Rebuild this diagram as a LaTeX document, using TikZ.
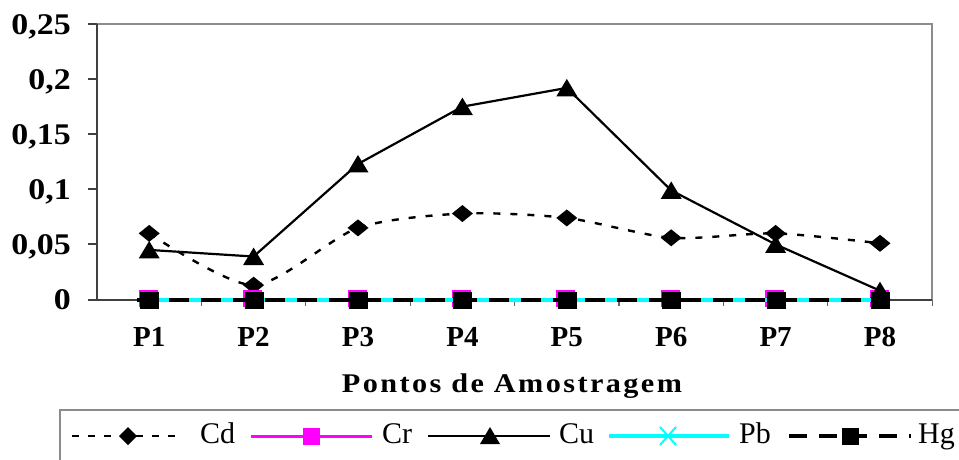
\documentclass[tikz,border=0pt]{standalone}
\usepackage{fontspec}
\setmainfont{Liberation Serif}
\newfontfamily\spaced[LetterSpace=8]{Liberation Serif}
\definecolor{cyanx}{RGB}{0,255,255}
\definecolor{magx}{RGB}{255,0,255}
\begin{document}
\begin{tikzpicture}[x=1pt,y=-1pt,
  axisline/.style={line width=2pt,draw=black!75},
  frameline/.style={line width=2pt,draw=black!45},
  tickline/.style={line width=1.2pt,draw=black!60},
  ylab/.style={anchor=base east,inner sep=0pt,font=\fontsize{30}{30}\selectfont\bfseries},
  xlab/.style={anchor=base,inner sep=0pt,font=\fontsize{29}{29}\selectfont\bfseries},
  ttl/.style={anchor=base,inner sep=0pt,font=\fontsize{27}{27}\selectfont\spaced\bfseries},
  legtxt/.style={anchor=base west,inner sep=0pt,font=\fontsize{30}{30}\selectfont},
  cdline/.style={line width=2.4pt,black,dash pattern=on 7pt off 10pt},
  culine/.style={line width=2.2pt,black},
  crline/.style={line width=3pt,magx},
  pbline/.style={line width=3.2pt,cyanx},
  hgline/.style={line width=3.2pt,black,dash pattern=on 20pt off 12pt},
  diam/.pic={\fill[black] (-10.5,0)--(0,-8.5)--(10.5,0)--(0,8.5)--cycle;},
  tri/.pic={\fill[black] (-10.5,8.5)--(0,-9)--(10.5,8.5)--cycle;},
  sqm/.pic={\fill[magx] (-9.5,-8.5) rectangle (9.5,8.5);},
  sqk/.pic={\fill[black] (-9.5,-8.5) rectangle (9.5,8.5);},
  xm/.pic={\draw[cyanx,line width=2pt] (-7,-7)--(7,7) (-7,7)--(7,-7);},
  ldiam/.pic={\fill[black] (-9,0)--(0,-9)--(9,0)--(0,9)--cycle;},
  ltri/.pic={\fill[black] (-10,8)--(0,-9)--(10,8)--cycle;},
  lsqm/.pic={\fill[magx] (-8.5,-8.5) rectangle (8.5,8.5);},
  lsqk/.pic={\fill[black] (-8.5,-8.5) rectangle (8.5,8.5);},
  lxm/.pic={\draw[cyanx,line width=2pt] (-8,-9)--(8,9) (-8,9)--(8,-9);}
]
\useasboundingbox (0,0) rectangle (959,459);
\fill[white] (0,0) rectangle (959,459);

% data coordinates
\foreach \i/\cd/\cu in {1/0.060/0.045,2/0.013/0.039,3/0.065/0.123,4/0.078/0.175,5/0.074/0.192,6/0.056/0.099,7/0.060/0.050,8/0.051/0.008}{
  \coordinate (cd\i) at ({97+104.4*(\i-0.5)},{299.5-1102*\cd});
  \coordinate (cu\i) at ({97+104.4*(\i-0.5)},{299.5-1102*\cu});
  \coordinate (z\i) at ({97+104.4*(\i-0.5)},300);
}
\coordinate (zL) at (97,300);
\coordinate (zR) at (932,300);

% frame and axes
\draw[frameline] (97,24) -- (932,24) -- (932,300);
\draw[axisline] (zR) -- (zL) -- (97,24);
\foreach \k/\t in {0/0,1/{0,05},2/{0,1},3/{0,15},4/{0,2},5/{0,25}}{
  \draw[axisline] (88,{299.5-55.1*\k}) -- (97,{299.5-55.1*\k});
  \node[ylab] (yl\k) at (71,{299.5-55.1*\k+10}) {\scalebox{1.13}[1]{\t}};
}
\foreach \k in {1,...,8}{
  \draw[tickline] ({97+104.4*\k},300) -- ({97+104.4*\k},306);
}
\foreach \i in {1,...,8}{
  \node[xlab] (p\i) at ({97+104.4*(\i-0.5)},346) {P\i};
}
\node[ttl] (title) at (512,392) {\scalebox{1.12}[1]{Pontos de Amostragem}};

% Cd
\draw[cdline] plot[smooth,tension=0.45] coordinates {(cd1) (cd2) (cd3) (cd4) (cd5) (cd6) (cd7) (cd8)};
\foreach \i in {1,...,8}{ \pic at (cd\i) {diam}; }
% Cr
\draw[crline] (z1) -- (z8);
\foreach \i in {1,...,8}{ \pic at ([shift={(-1,-1.5)}]z\i) {sqm}; }
% Cu
\draw[culine] (cu1) -- (cu2) -- (cu3) -- (cu4) -- (cu5) -- (cu6) -- (cu7) -- (cu8);
\foreach \i in {1,...,8}{ \pic at (cu\i) {tri}; }
% Pb
\draw[pbline] (z1) -- (z8);
\foreach \i in {1,...,8}{ \pic at (z\i) {xm}; }
% Hg
\draw[hgline] ([xshift=-12pt]z1) -- ([xshift=4pt]z8);
\foreach \i in {1,...,8}{ \pic at ([shift={(0.5,0.5)}]z\i) {sqk}; }

% legend
\draw[frameline] (60,470) -- (60,410) -- (970,410);
\coordinate (la1) at (72,436);  \coordinate (lb1) at (183,436);
\coordinate (la2) at (251,436); \coordinate (lb2) at (372,436);
\coordinate (la3) at (428,436); \coordinate (lb3) at (550,436);
\coordinate (la4) at (609,436); \coordinate (lb4) at (729,436);
\coordinate (la5) at (789,436); \coordinate (lb5) at (911,436);
\draw[line width=2.4pt,black,dash pattern=on 7pt off 9pt] (la1) -- (lb1);
\pic at (128,436) {ldiam};
\node[legtxt] (lcd) at (200,443) {Cd};
\draw[crline] (la2) -- (lb2);
\pic at (311,436) {lsqm};
\node[legtxt] (lcr) at (382,443) {Cr};
\draw[culine] (la3) -- (lb3);
\pic at (490,436) {ltri};
\node[legtxt] (lcu) at (559,443) {Cu};
\draw[pbline] (la4) -- (lb4);
\pic at (668,436) {lxm};
\node[legtxt] (lpb) at (739,443) {Pb};
\draw[line width=3.2pt,black,dash pattern=on 18pt off 12pt] (la5) -- (lb5);
\pic at (850,436) {lsqk};
\node[legtxt] (lhg) at (918,443) {Hg};
\end{tikzpicture}
\end{document}
